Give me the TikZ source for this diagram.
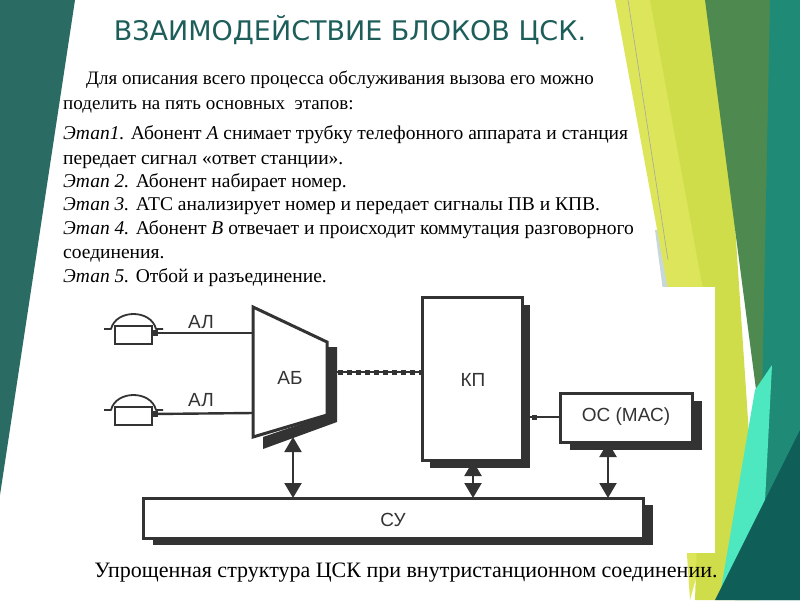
\documentclass[tikz,border=0pt]{standalone}
\usepackage{fontspec}
\setmainfont{Liberation Serif}
\newfontfamily\titlefont{DejaVu Sans}
\newfontfamily\diagfont{Liberation Sans}
\usetikzlibrary{arrows.meta}
\definecolor{titlec}{HTML}{1E5E5A}
\definecolor{darkteal}{HTML}{2A6B63}
\definecolor{lime}{HTML}{CFDD4A}
\definecolor{limel}{HTML}{DDE65A}
\definecolor{dgreen}{HTML}{4E8A50}
\definecolor{teal}{HTML}{1F8A76}
\definecolor{aqua}{HTML}{4DE8C0}
\definecolor{deepteal}{HTML}{0F5E58}
\definecolor{pale}{HTML}{C8D8D8}
\definecolor{ink}{HTML}{333333}
\tikzset{
  txt/.style={anchor=base west,inner sep=0pt,font=\fontsize{19.5}{22}\selectfont},
  blk/.style={draw=ink,line width=3pt,fill=white},
  shd/.style={fill=ink},
  lbl/.style={font=\diagfont\fontsize{19}{22}\selectfont,text=ink,inner sep=0pt},
  biarrow/.style={draw=ink,line width=2.2pt,{Triangle[width=17pt,length=15pt]}-{Triangle[width=17pt,length=15pt]}},
  dotl/.style={draw=ink,line width=5pt,dash pattern=on 5pt off 4pt}
}
\begin{document}
\begin{tikzpicture}[x=1pt,y=-1pt]
\useasboundingbox (0,0) rectangle (800,600);
\fill[white] (0,0) rectangle (800,600);
% decorations
\fill[darkteal] (0,0) -- (75,0) -- (0,495) -- cycle;
\fill[pale] (655,230) -- (690,230) -- (700,420) -- (680,420) -- cycle;
\fill[limel] (615,0) -- (710,0) -- (740,420) -- (690,600) -- (670,300) -- cycle;
\fill[lime] (650,0) -- (720,0) -- (760,600) -- (695,600) -- (705,300) -- cycle;
\fill[dgreen] (705,0) -- (800,0) -- (800,340) -- (760,420) -- cycle;
\fill[teal] (770,0) -- (800,0) -- (800,600) -- (735,600) -- (762,400) -- cycle;
\fill[aqua] (755,390) -- (772,365) -- (762,560) -- (720,595) -- cycle;
\fill[deepteal] (800,430) -- (800,600) -- (715,600) -- cycle;
\draw[gray!70,line width=0.6pt] (628,0) -- (668,260);
\fill[white] (86,287) rectangle (715,553);
% title
\node[titlec,font=\titlefont\fontsize{27}{30}\selectfont,inner sep=0pt] (title) at (350,30) {ВЗАИМОДЕЙСТВИЕ БЛОКОВ ЦСК.};
% text
\node[txt,font=\fontsize{19}{22}\selectfont] (i1) at (86,84) {Для описания всего процесса обслуживания вызова его можно};
\node[txt,font=\fontsize{19}{22}\selectfont] (i2) at (63,109) {поделить на пять основных\ \ этапов:};
\node[txt] (e1) at (63,139) {\textit{Этап1.} Абонент \textit{А} снимает трубку телефонного аппарата и станция};
\node[txt] (e1b) at (63,164) {передает сигнал «ответ станции».};
\node[txt] (e2) at (63,187) {\textit{Этап 2.} Абонент набирает номер.};
\node[txt] (e3) at (63,210) {\textit{Этап 3.} АТС анализирует номер и передает сигналы ПВ и КПВ.};
\node[txt] (e4) at (63,234) {\textit{Этап 4.} Абонент \textit{В} отвечает и происходит коммутация разговорного};
\node[txt] (e4b) at (63,258) {соединения.};
\node[txt] (e5) at (63,282) {\textit{Этап 5.} Отбой и разъединение.};
% phones
\foreach \n/\dy in {1/0,2/81}{
  \draw[ink,line width=1.8pt,fill=white,line join=round] (104,329+\dy) -- (111,329+\dy) .. controls (116,309+\dy) and (151,309+\dy) .. (156,329+\dy) -- (163,329+\dy);
  \draw[ink,line width=1.8pt,fill=white] (115,326+\dy) rectangle (152,344+\dy);
  \fill[ink] (152,330+\dy) rectangle (158,336+\dy);
  \coordinate (ph\n) at (152,333+\dy);
}
% AB
\fill[shd] (327,347) -- (337,347) -- (337,422) -- (263,449) -- (263,437) -- (327,415) -- cycle;
\draw[blk,line join=miter] (253,307) -- (327,342) -- (327,415) -- (253,437) -- cycle;
\node[lbl] (ab) at (290,378) {АБ};
\coordinate (abL1) at (253,333);
\coordinate (abL2) at (253,413);
\coordinate (abR) at (329,372);
\draw[ink,line width=2.4pt] (ph1) -- (abL1);
\draw[ink,line width=2.4pt] (ph2) -- (abL2);
\node[lbl] (al1) at (201,322) {АЛ};
\node[lbl] (al2) at (201,400) {АЛ};
% KP
\fill[shd] (430,305) rectangle (530,468);
\draw[blk] (422,297) rectangle (522,460);
\node[lbl] (kp) at (473,380) {КП};
\coordinate (kpL) at (421,372);
\coordinate (kpR) at (524,417);
% OC
\fill[shd] (570,401) rectangle (702,450);
\draw[blk] (560,393) rectangle (692,442);
\node[lbl] (oc) at (626,417) {ОС (МАС)};
\coordinate (ocL) at (559,417);
% SU
\fill[shd] (153,505) rectangle (653,545);
\draw[blk] (143,498) rectangle (643,538);
\node[lbl] (su) at (393,520) {СУ};
% connections
\draw[ink,line width=2pt] (abR) -- (kpL);
\draw[dotl] (abR) -- (kpL);
\draw[ink,line width=2pt] (kpR) -- (ocL);
\draw[ink,line width=5pt,dash pattern=on 5pt off 30pt] ([xshift=8pt]kpR) -- (ocL);
\draw[biarrow] (293,437) -- (293,498);
\draw[biarrow] (473,461) -- (473,498);
\draw[biarrow] (608,442) -- (608,498);
% caption
\node[inner sep=0pt,font=\fontsize{22}{25}\selectfont] (cap) at (406,573) {Упрощенная структура ЦСК при внутристанционном соединении.};
\end{tikzpicture}
\end{document}
